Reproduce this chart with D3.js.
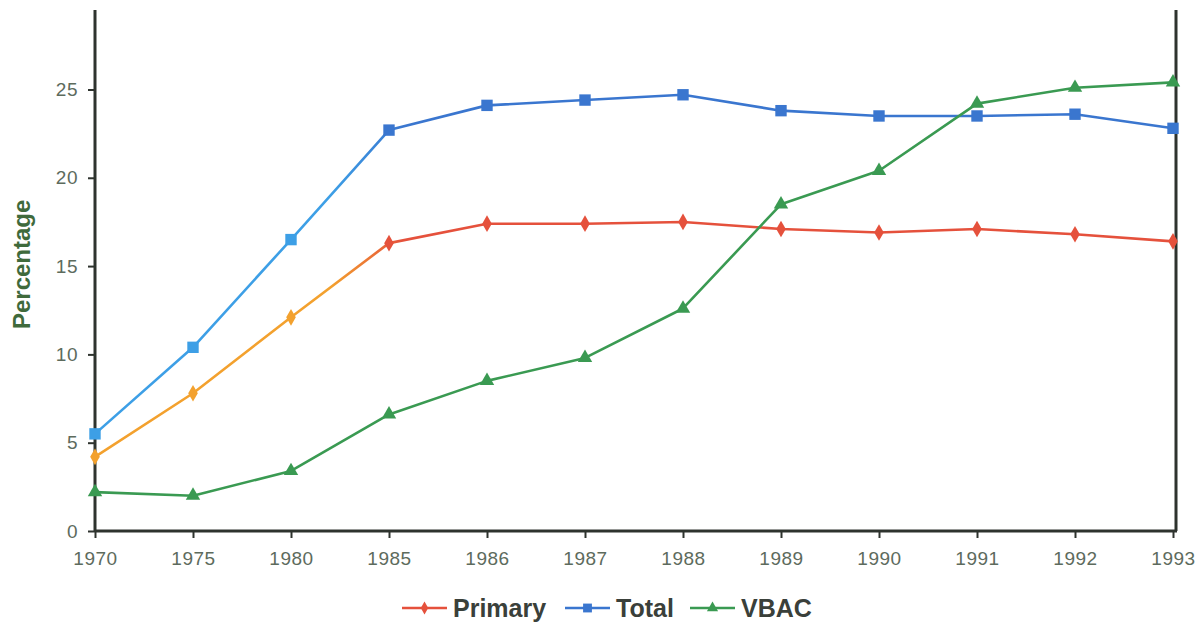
<!DOCTYPE html>
<html>
<head>
<meta charset="utf-8">
<script src="https://cdn.jsdelivr.net/npm/d3@7"></script>
<style>
    body { margin: 0; background: #fff; }
    svg { display: block; font-family: "Liberation Sans", Arial, sans-serif; }
</style>
</head>
<body>
<svg id="chart" width="1201" height="623"></svg>
<script>
let years = ["1970", "1975", "1980", "1985", "1986", "1987", "1988", "1989", "1990", "1991", "1992", "1993"];
let primaryValues = [4.2, 7.8, 12.1, 16.3, 17.4, 17.4, 17.5, 17.1, 16.9, 17.1, 16.8, 16.4];
let totalValues = [5.5, 10.4, 16.5, 22.7, 24.1, 24.4, 24.7, 23.8, 23.5, 23.5, 23.6, 22.8];
let vbacValues = [2.2, 2.0, 3.4, 6.6, 8.5, 9.8, 12.6, 18.5, 20.4, 24.2, 25.1, 25.4];
let yTicks = [0, 5, 10, 15, 20, 25];

let series = [
    { name: "Primary", values: primaryValues, color: "#e5513c", early: "#f3a12e", symbol: d3.symbolDiamond, size: 80 },
    { name: "Total", values: totalValues, color: "#3a76cf", early: "#3d9fe6", symbol: d3.symbolSquare, size: 130 },
    { name: "VBAC", values: vbacValues, color: "#3a9a52", early: "#3a9a52", symbol: d3.symbolTriangle, size: 90 },
];

let margin = { left: 95, right: 28, top: 10, bottom: 92 };
let width = 1201, height = 623;
let svg = d3.select("#chart");

let x = d3.scalePoint()
    .domain(years)
    .range([margin.left, width - margin.right]);
let y = d3.scaleLinear()
    .domain([0, 29.5])
    .range([height - margin.bottom, margin.top]);

// gradients so the early part of a line looks lighter, like the scan
let defs = svg.append("defs");
series.forEach((s, i) => {
    let g = defs.append("linearGradient")
        .attr("id", `grad-${i}`)
        .attr("gradientUnits", "userSpaceOnUse")
        .attr("x1", x("1970")).attr("x2", x("1993"))
        .attr("y1", 0).attr("y2", 0);
    let stop = (x("1985") - x("1970")) / (x("1993") - x("1970"));
    g.append("stop").attr("offset", 0).attr("stop-color", s.early);
    g.append("stop").attr("offset", stop * 0.8).attr("stop-color", s.early);
    g.append("stop").attr("offset", stop * 1.05).attr("stop-color", s.color);
    g.append("stop").attr("offset", 1).attr("stop-color", s.color);
});

let axisColor = "#2e332e";
let labelColor = "#5d6b5d";

// y axis
let yAxis = svg.append("g")
    .attr("transform", `translate(${margin.left},0)`)
    .call(d3.axisLeft(y).tickValues(yTicks).tickSize(7).tickPadding(10).tickSizeOuter(0));
yAxis.attr("font-size", null);
yAxis.select(".domain").remove();
yAxis.append("line")
    .attr("x1", 0).attr("x2", 0)
    .attr("y1", margin.top).attr("y2", y(0))
    .attr("stroke", axisColor).attr("stroke-width", 3);
yAxis.selectAll(".tick line").attr("stroke", axisColor).attr("stroke-width", 2);
yAxis.selectAll(".tick text").attr("fill", labelColor).style("font-size", "19px").style("letter-spacing", "0.5px");

// right border line
svg.append("line")
    .attr("x1", x("1993") + 3).attr("x2", x("1993") + 3)
    .attr("y1", margin.top).attr("y2", y(0))
    .attr("stroke", axisColor).attr("stroke-width", 3);

// x axis
let xAxis = svg.append("g")
    .attr("transform", `translate(0,${y(0)})`)
    .call(d3.axisBottom(x).tickSize(7).tickPadding(14).tickSizeOuter(0));
xAxis.attr("font-size", null);
xAxis.select(".domain").remove();
xAxis.append("line")
    .attr("x1", margin.left).attr("x2", x("1993") + 4)
    .attr("y1", 0).attr("y2", 0)
    .attr("stroke", axisColor).attr("stroke-width", 3);
xAxis.selectAll(".tick line").attr("stroke", axisColor).attr("stroke-width", 2);
xAxis.selectAll(".tick text").attr("fill", labelColor).style("font-size", "19px").style("letter-spacing", "0.5px");

// y label
svg.append("text")
    .attr("transform", `translate(30,${y(15.1)}) rotate(-90)`)
    .attr("text-anchor", "middle")
    .style("font-size", "24px")
    .attr("font-weight", "bold")
    .attr("fill", "#3f6a3c")
    .text("Percentage");

// lines and markers
let line = d3.line()
    .x((d, i) => x(years[i]))
    .y(d => y(d));

series.forEach((s, i) => {
    svg.append("path")
        .datum(s.values)
        .attr("fill", "none")
        .attr("stroke", `url(#grad-${i})`)
        .attr("stroke-width", 2.6)
        .attr("stroke-linejoin", "round")
        .attr("d", line);
    svg.append("g")
        .selectAll("path")
        .data(s.values)
        .join("path")
        .attr("transform", (d, j) => `translate(${x(years[j])},${y(d)})`)
        .attr("d", d3.symbol().type(s.symbol).size(s.size))
        .attr("fill", (d, j) => j < 3 ? s.early : s.color);
});

// legend
let legendX = [402, 565, 690];
let legend = svg.append("g").attr("transform", "translate(0,608)");
series.forEach((s, i) => {
    let item = legend.append("g").attr("transform", `translate(${legendX[i]},0)`);
    item.append("line")
        .attr("x1", 0).attr("x2", 45)
        .attr("y1", 0).attr("y2", 0)
        .attr("stroke", s.color).attr("stroke-width", 2.6);
    item.append("path")
        .attr("transform", "translate(22.5,0)")
        .attr("d", d3.symbol().type(s.symbol).size(s.size * 0.6))
        .attr("fill", s.color);
    item.append("text")
        .attr("x", 51)
        .attr("y", 9)
        .style("font-size", "25px")
        .attr("font-weight", "bold")
        .attr("fill", "#3a403a")
        .text(s.name);
});
</script>
</body>
</html>
